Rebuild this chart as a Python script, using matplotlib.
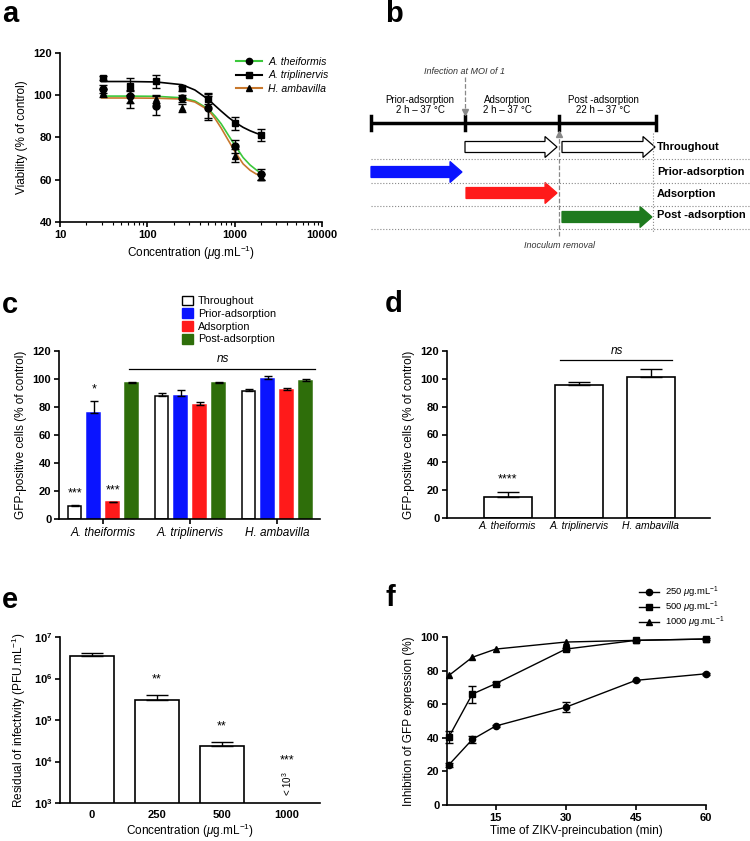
import numpy as np
import matplotlib
matplotlib.use("Agg")
import matplotlib.pyplot as plt
from matplotlib.patches import FancyArrow, Patch
from matplotlib.lines import Line2D

plt.rcParams['font.family'] = ['Liberation Sans', 'DejaVu Sans']
plt.rcParams['mathtext.fontset'] = 'custom'
plt.rcParams['mathtext.rm'] = 'Liberation Sans'
plt.rcParams['mathtext.it'] = 'Liberation Sans:italic'
plt.rcParams['mathtext.bf'] = 'Liberation Sans:bold'
plt.rcParams['axes.linewidth'] = 1.2
plt.rcParams['xtick.major.width'] = 1.2
plt.rcParams['ytick.major.width'] = 1.2
plt.rcParams['xtick.major.size'] = 3.5
plt.rcParams['ytick.major.size'] = 3.5

W, H = 750, 841

# ---- panel a: viability ----
conc_a = [31.25, 62.5, 125, 250, 500, 1000, 2000]
thei_a = [103, 99.5, 95, 98.5, 94, 75.8, 62.5]
thei_a_err = [1.8, 3, 4.5, 1.5, 5.5, 3, 2.5]
trip_a = [108, 104.2, 106.6, 103.2, 98.1, 86.7, 81.2]
trip_a_err = [1, 4, 3, 1, 2.4, 3, 2.8]
amba_a = [101, 97.8, 98.3, 94, 95, 71.4, 61.2]
amba_a_err = [2, 4, 2, 2, 6, 3, 1.5]
# fitted curves
fit_x = [30, 60, 125, 250, 350, 500, 600, 700, 850, 1000, 1250, 1500, 1750, 2000]
fit_thei = [99.6, 99.6, 99.5, 98.8, 97.3, 93.5, 90.0, 86.5, 81.0, 76.5, 70.5, 67.0, 64.8, 63.0]
fit_trip = [106.5, 106.5, 106.3, 105.0, 102.5, 98.0, 95.0, 92.5, 89.5, 87.3, 84.8, 83.2, 82.1, 81.3]
fit_amba = [98.7, 98.7, 98.6, 98.2, 96.8, 93.0, 88.8, 84.5, 78.5, 73.5, 67.5, 64.5, 62.8, 61.8]

# ---- panel c: time-of-addition ----
species = ['A. theiformis', 'A. triplinervis', 'H. ambavilla']
conditions = ['Throughout', 'Prior-adsorption', 'Adsorption', 'Post-adsorption']
cond_colors = ['white', '#0a14ff', '#ff1a1a', '#2e6e0a']
gfp_c = [[9.5, 87.9, 91.7],
         [75.5, 88.1, 99.8],
         [11.9, 81.7, 91.9],
         [97.4, 97.4, 98.8]]
gfp_c_err = [[0.5, 2.3, 1.4],
             [9.0, 4.0, 2.1],
             [0.3, 1.9, 1.4],
             [0.6, 0.5, 1.4]]
stars_c = ['***', '*', '***']

# ---- panel d: virucidal ----
gfp_d = [15.0, 95.6, 101.6]
gfp_d_err = [3.6, 1.9, 5.3]

# ---- panel e: residual infectivity ----
conc_e = ['0', '250', '500', '1000']
pfu_e = [3.48e6, 3.1e5, 2.36e4, 0]
pfu_e_err = [0.69e6, 1.0e5, 0.54e4, 0]
stars_e = ['', '**', '**', '***']
stars_e_y = [0, 9.3e5, 7.0e4, 1.07e4]

# ---- panel f: kinetics ----
time_f = [5, 10, 15, 30, 45, 60]
inh_250 = [23.9, 39.0, 47.0, 58.2, 74.2, 78.1]
inh_250_err = [1.0, 2.0, 0.8, 3.0, 0.5, 0.5]
inh_500 = [40.5, 66.0, 72.2, 92.8, 98.0, 98.8]
inh_500_err = [3.5, 5.0, 0.8, 0.8, 0.5, 0.5]
inh_1000 = [77.1, 87.9, 92.8, 97.0, 98.0, 98.8]

TICK = 8


def px_axes(x0, y0, x1, y1):
    return fig.add_axes([x0 / W, 1 - y1 / H, (x1 - x0) / W, (y1 - y0) / H])


def style(ax):
    ax.spines['top'].set_visible(False)
    ax.spines['right'].set_visible(False)
    ax.tick_params(labelsize=TICK, direction='out', pad=2)
    for lab in ax.get_xticklabels() + ax.get_yticklabels():
        lab.set_fontweight('bold')


def letter(x, y, s):
    fig.text(x / W, 1 - y / H, s, fontsize=21, fontweight='bold', va='center', ha='left')


fig = plt.figure(figsize=(W / 100, H / 100), dpi=100)
ulab = r'$\mu$g.mL$^{-1}$'

# ================= a =================
ax = px_axes(60, 53, 322, 222)
ax.set_xscale('log')
ax.plot(fit_x, fit_thei, color='#3cc83c', lw=1.2)
ax.plot(fit_x, fit_trip, color='black', lw=1.2)
ax.plot(fit_x, fit_amba, color='#c8782d', lw=1.2)
for y, e, m in [(thei_a, thei_a_err, 'o'), (trip_a, trip_a_err, 's'), (amba_a, amba_a_err, '^')]:
    ax.errorbar(conc_a, y, yerr=e, fmt=m, color='black', ms=5, capsize=3, elinewidth=1, capthick=1)
ax.set_xlim(10, 10000)
ax.set_ylim(40, 120)
ax.set_yticks([40, 60, 80, 100, 120])
ax.set_xticks([10, 100, 1000, 10000])
ax.set_xticklabels(['10', '100', '1000', '10000'])
ax.set_xlabel('Concentration (' + ulab + ')', fontsize=8.5, labelpad=3)
ax.set_ylabel('Viability (% of control)', fontsize=8.5)
style(ax)
ax.tick_params(which='minor', length=2, width=0.8)
hs = [Line2D([], [], color='#3cc83c', marker='o', mfc='k', mec='k', ms=4.5),
      Line2D([], [], color='black', marker='s', mfc='k', mec='k', ms=4.5),
      Line2D([], [], color='#c8782d', marker='^', mfc='k', mec='k', ms=4.5)]
fig.legend(hs, ['A. theiformis', 'A. triplinervis', 'H. ambavilla'],
           loc='upper left', bbox_to_anchor=(226 / W, 1 - 47 / H), frameon=False,
           prop={'style': 'italic', 'size': 7.6}, handlelength=2.5, labelspacing=0.35,
           handletextpad=0.6)
letter(2, 14, 'a')

# ================= b =================
axb = px_axes(360, 0, 750, 280)
axb.set_xlim(360, 750)
axb.set_ylim(280, 0)
axb.axis('off')
ticks_b = [371, 465, 559, 656]
axb.plot([371, 656], [123, 123], color='black', lw=2.5, solid_capstyle='butt')
for t in ticks_b:
    axb.plot([t, t], [116, 130], color='black', lw=2.5)
phases = [('Prior-adsorption\n2 h \u2013 37 \u00b0C', 420),
          ('Adsorption\n2 h \u2013 37 \u00b0C', 507),
          ('Post -adsorption\n22 h \u2013 37 \u00b0C', 603)]
for s, x in phases:
    axb.text(x, 105, s, ha='center', va='center', fontsize=7, linespacing=1.1)
for y in [159, 183, 206, 229]:
    axb.plot([371, 750], [y, y], color='#888888', lw=0.8, ls=':')
axb.plot([653, 653], [133, 233], color='#888888', lw=0.8, ls=':')
axb.text(464, 72, 'Infection at MOI of 1', ha='center', va='center', fontsize=6.5,
         style='italic', color='#333333')
axb.plot([465, 465], [77, 110], color='#888888', lw=0.9, ls='--')
axb.plot([465], [112], marker='v', color='#888888', ms=4)
axb.text(560, 245, 'Inoculum removal', ha='center', va='center', fontsize=6.5,
         style='italic', color='#333333')
axb.plot([559, 559], [236, 136], color='#888888', lw=0.9, ls='--')
axb.plot([559], [134], marker='^', color='#888888', ms=4)
arrows = [(465, 557, 147, 'white'), (562, 655, 147, 'white'),
          (371, 462, 172, '#0a14ff'), (466, 557, 193, '#ff1a1a'),
          (562, 652, 217, '#1e7a1e')]
for x0, x1, y, c in arrows:
    ec = 'black' if c == 'white' else c
    axb.add_patch(FancyArrow(x0, y, x1 - x0, 0, width=11, head_width=21, head_length=12,
                             length_includes_head=True, facecolor=c, edgecolor=ec, lw=0.9))
for s, y in [('Throughout', 147), ('Prior-adsorption', 172), ('Adsorption', 194),
             ('Post -adsorption', 215)]:
    axb.text(657, y, s, ha='left', va='center', fontsize=8, fontweight='bold')
letter(385, 14, 'b')

# ================= c =================
ax = px_axes(59, 351, 320, 519)
xc = np.arange(len(species))
pitch = 0.218
bw = 0.15
for i, cond in enumerate(conditions):
    xs = xc + (i - 1.5) * pitch
    ec = 'black' if cond_colors[i] == 'white' else cond_colors[i]
    ax.bar(xs, gfp_c[i], width=bw, color=cond_colors[i], edgecolor=ec, lw=1.1, label=cond)
    ax.errorbar(xs, gfp_c[i], yerr=[np.zeros(3), gfp_c_err[i]], fmt='none', ecolor='black',
                elinewidth=1, capsize=3, capthick=1)
for i, s in enumerate(stars_c):
    ax.text(xc[0] + (i - 1.5) * pitch, gfp_c[i][0] + gfp_c_err[i][0] + 8, s,
            ha='center', va='center', fontsize=9)
ax.plot([0.30, 2.43], [107, 107], color='black', lw=0.9)
ax.text(1.38, 114, 'ns', ha='center', va='center', fontsize=8.5, style='italic')
ax.set_xlim(-0.51, 2.49)
ax.set_ylim(0, 120)
ax.set_yticks([0, 20, 40, 60, 80, 100, 120])
ax.set_xticks(xc)
ax.set_xticklabels(species)
ax.set_ylabel('GFP-positive cells (% of control)', fontsize=8.5)
style(ax)
for lab in ax.get_xticklabels():
    lab.set_fontweight('normal')
    lab.set_fontstyle('italic')
    lab.set_fontsize(8.5)
hc = [Patch(facecolor=c, edgecolor='black' if c == 'white' else c, lw=1) for c in cond_colors]
fig.legend(hc, conditions, loc='upper left', bbox_to_anchor=(172 / W, 1 - 286 / H),
           frameon=False, fontsize=7.8, handlelength=1.0, handleheight=1.0,
           labelspacing=0.2, handletextpad=0.5)
letter(2, 305, 'c')

# ================= d =================
ax = px_axes(447, 351, 710, 518)
xd = np.arange(len(species))
ax.bar(xd, gfp_d, width=0.67, color='white', edgecolor='black', lw=1.2)
ax.errorbar(xd, gfp_d, yerr=[np.zeros(3), gfp_d_err], fmt='none', ecolor='black',
            elinewidth=1, capsize=8, capthick=1)
ax.text(0, 27.5, '****', ha='center', va='center', fontsize=9)
ax.plot([0.73, 2.30], [113.5, 113.5], color='black', lw=0.9)
ax.text(1.53, 120, 'ns', ha='center', va='center', fontsize=8.5, style='italic')
ax.set_xlim(-0.85, 2.83)
ax.set_ylim(0, 120)
ax.set_yticks([0, 20, 40, 60, 80, 100, 120])
ax.set_xticks(xd)
ax.set_xticklabels(species)
ax.set_ylabel('GFP-positive cells (% of control)', fontsize=8.5)
style(ax)
for lab in ax.get_xticklabels():
    lab.set_fontweight('normal')
    lab.set_fontstyle('italic')
    lab.set_fontsize(7.5)
ax.tick_params(axis='x', length=0)
letter(385, 304, 'd')

# ================= e =================
ax = px_axes(60, 637, 320, 803)
xe = np.arange(len(conc_e))
ax.set_yscale('log')
ax.bar(xe[:3], pfu_e[:3], width=0.68, color='white', edgecolor='black', lw=1.2)
ax.errorbar(xe[:3], pfu_e[:3], yerr=[np.zeros(3), pfu_e_err[:3]], fmt='none', ecolor='black',
            elinewidth=1, capsize=8, capthick=1)
for i in range(1, 4):
    ax.text(xe[i], stars_e_y[i], stars_e[i], ha='center', va='center', fontsize=9)
ax.text(xe[3], 10 ** 3.48, r'< 10$^3$', rotation=90, ha='center', va='center', fontsize=7)
ax.set_xlim(-0.49, 3.51)
ax.set_ylim(1e3, 1e7)
ax.set_yticks([1e3, 1e4, 1e5, 1e6, 1e7])
ax.set_yticklabels([r'$\mathbf{10^{%d}}$' % k for k in range(3, 8)])
ax.yaxis.set_minor_locator(matplotlib.ticker.NullLocator())
ax.set_xticks(xe)
ax.set_xticklabels(conc_e)
ax.set_xlabel('Concentration (' + ulab + ')', fontsize=8.5, labelpad=1)
ax.set_ylabel('Residual of infectivity (PFU.mL$^{-1}$)', fontsize=8.5)
style(ax)
ax.tick_params(axis='x', length=0, pad=5)
letter(2, 600, 'e')

# ================= f =================
ax = px_axes(447, 637, 706, 805)
ax.errorbar(time_f, inh_250, yerr=inh_250_err, fmt='-o', color='black', ms=4.5, lw=1,
            capsize=3, elinewidth=1, clip_on=False)
ax.errorbar(time_f, inh_500, yerr=inh_500_err, fmt='-s', color='black', ms=4.5, lw=1,
            capsize=3, elinewidth=1, clip_on=False)
ax.plot(time_f, inh_1000, '-^', color='black', ms=4.5, lw=1, clip_on=False)
ax.set_xlim(4.6, 60)
ax.set_ylim(0, 100)
ax.set_xticks([15, 30, 45, 60])
ax.set_yticks([0, 20, 40, 60, 80, 100])
ax.set_xlabel('Time of ZIKV-preincubation (min)', fontsize=8.5, labelpad=2)
ax.set_ylabel('Inhibition of GFP expression (%)', fontsize=8.5)
style(ax)
hf = [Line2D([], [], color='black', marker=m, ms=4.5, lw=1) for m in ['o', 's', '^']]
fig.legend(hf, ['250 ' + ulab, '500 ' + ulab, '1000 ' + ulab],
           loc='upper left', bbox_to_anchor=(630 / W, 1 - 576 / H),
           frameon=False, fontsize=6.8, handlelength=2.2, labelspacing=0.0,
           handletextpad=0.6)
letter(385, 598, 'f')

fig.savefig('out.png', dpi=100)
